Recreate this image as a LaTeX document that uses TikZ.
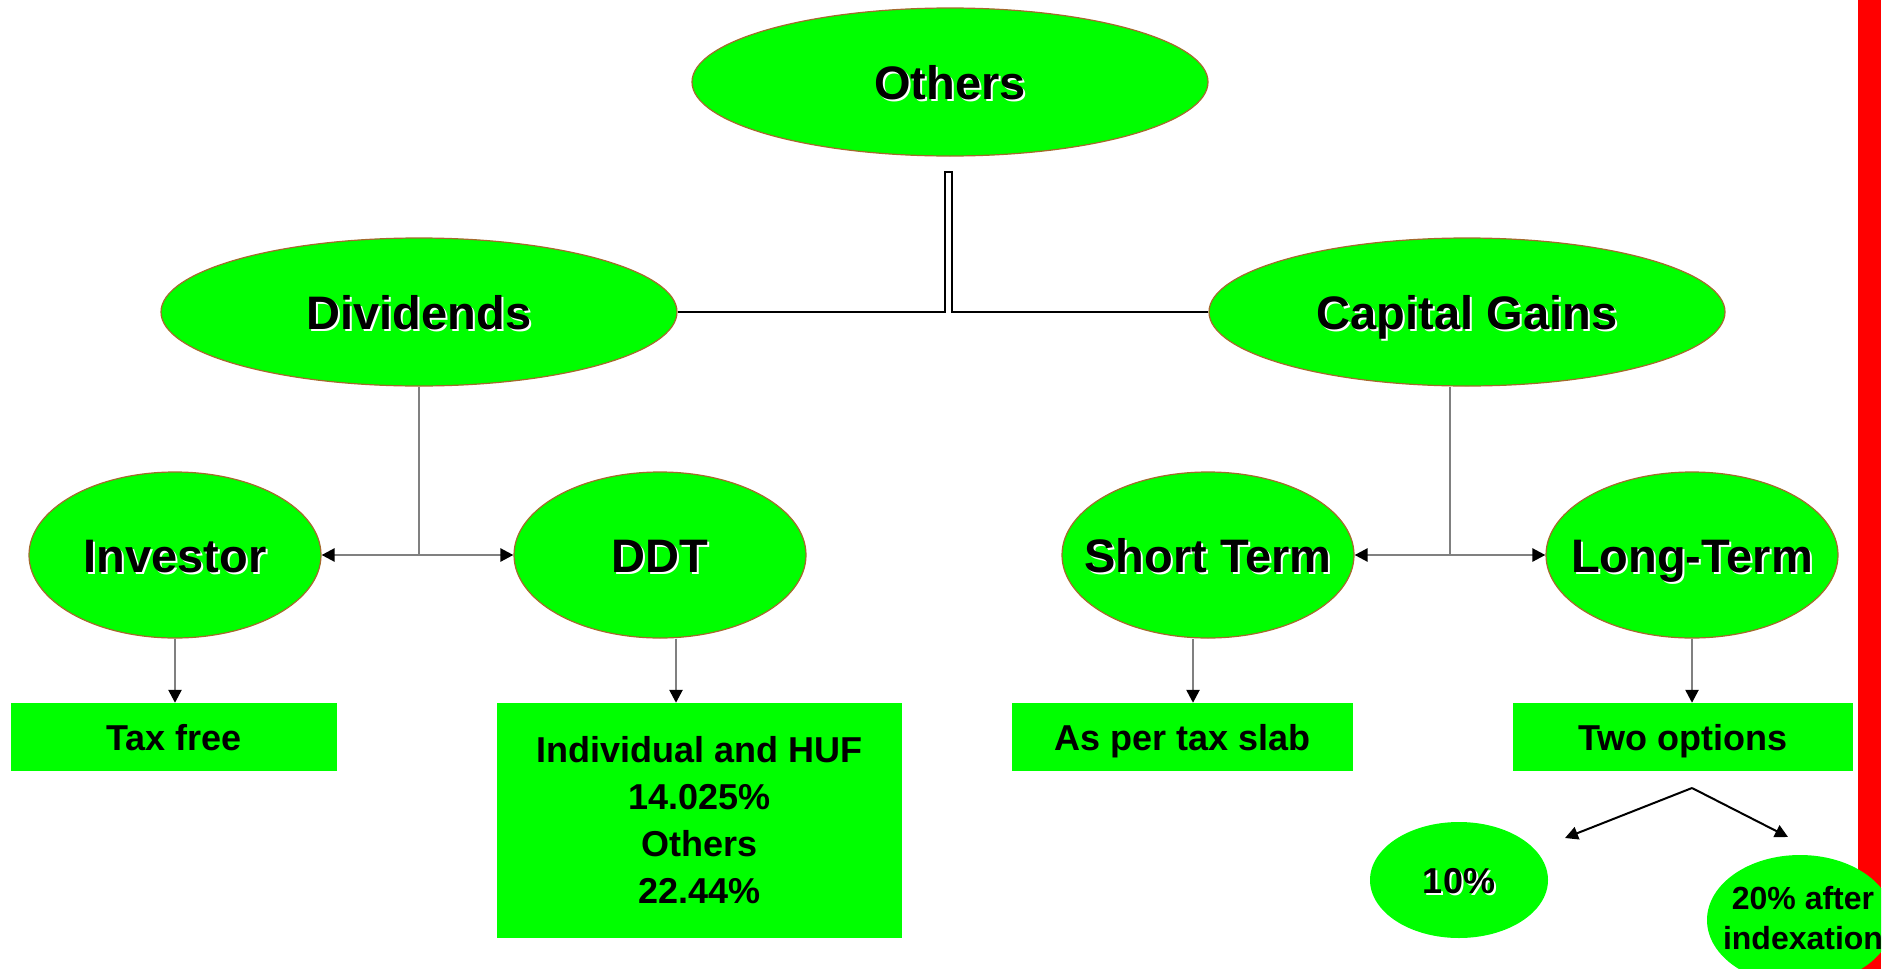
\documentclass[tikz,border=0pt]{standalone}
\usepackage{fontspec}
\setmainfont{Liberation Sans}
\usetikzlibrary{shapes.geometric,arrows.meta,calc}
\definecolor{lgreen}{RGB}{0,255,0}
\definecolor{ellborder}{RGB}{165,105,45}
\definecolor{conngray}{RGB}{128,128,128}
\newcommand{\shtxt}[1]{\makebox[0pt][l]{\hspace{2pt}\raisebox{-2pt}{\color{white}#1}}#1}
\begin{document}
\begin{tikzpicture}[x=1pt,y=-1pt,
  ell/.style={ellipse, draw=ellborder, line width=1.2pt, fill=lgreen, inner sep=0pt},
  plainell/.style={ellipse, fill=lgreen, draw=none, inner sep=0pt},
  bigell/.style={ell, minimum width=516pt, minimum height=148pt},
  midell/.style={ell, minimum width=292pt, minimum height=166pt},
  bigtxt/.style={font=\bfseries\fontsize{47}{56}\selectfont, inner sep=0pt, text height=34pt, text depth=0pt},
  box/.style={fill=lgreen, draw=none, inner sep=0pt, font=\bfseries\fontsize{36}{47}\selectfont, align=center},
  boxtxt/.style={font=\bfseries\fontsize{36}{47}\selectfont, inner sep=0pt, text height=26pt, text depth=0pt},
  blk/.style={draw=black, line width=2pt},
  gr/.style={draw=conngray, line width=2.5pt},
  tip/.style={-{Triangle[length=13pt,width=13pt,color=black]}},
]
\useasboundingbox (0,0) rectangle (1896,969);
\fill[white] (0,0) rectangle (1896,969);

% red bar
\fill[red] (1858,0) rectangle (1881,969);

% level 1 and 2 ellipses
\node[bigell] (oth) at (950,82) {};
\node[bigtxt] (othT) at (oth) {\shtxt{Others}};
\node[bigell] (div) at (419,312) {};
\node[bigtxt] (divT) at (div) {\shtxt{Dividends}};
\node[bigell] (cap) at (1467,312) {};
\node[bigtxt] (capT) at (cap) {\shtxt{Capital Gains}};

\node[midell] (inv) at (175,555) {};
\node[bigtxt] (invT) at (inv) {\shtxt{Investor}};
\node[midell] (ddt) at (660,555) {};
\node[bigtxt] (ddtT) at (ddt) {\shtxt{DDT}};
\node[midell] (st) at (1208,555) {};
\node[bigtxt] (stT) at (st) {\shtxt{Short Term}};
\node[midell] (lt) at (1692,555) {};
\node[bigtxt] (ltT) at (lt) {\shtxt{Long-Term}};

% boxes
\node[box, minimum width=326pt, minimum height=68pt] (tax) at (174,737) {};
\node[boxtxt] (taxT) at (tax) {Tax free};
\node[box, minimum width=405pt, minimum height=235pt] (ddtbox) at (699.5,820.5)
  {Individual and HUF\\14.025\%\\Others\\22.44\%};
\node[box, minimum width=341pt, minimum height=68pt] (slab) at (1182.5,737) {};
\node[boxtxt] (slabT) at (slab) {As per tax slab};
\node[box, minimum width=340pt, minimum height=68pt] (two) at (1683,737) {};
\node[boxtxt] (twoT) at (two) {Two options};

% option ellipses
\node[plainell, minimum width=178pt, minimum height=116pt] (ten) at (1459,880) {};
\node[boxtxt] (tenT) at (ten) {\shtxt{10\%}};
\begin{scope}
  \clip (0,0) rectangle (1881,969);
  \node[plainell, minimum width=186pt, minimum height=130pt] (twenty) at (1800,920) {};
\end{scope}
\node[font=\bfseries\fontsize{32}{40}\selectfont, align=center, inner sep=0pt] (twentyT) at (1803,918) {20\% after\\indexation};

% top connector
\coordinate (jl) at (945,172);
\coordinate (jr) at (952,172);
\draw[blk] (div.east) -- (div.east -| jl) -- (jl) -- (jr) -- (cap.west -| jr) -- (cap.west);

% dividends branch
\coordinate (dj) at (419,555);
\draw[gr] (div.south) -- (dj);
\draw[gr,tip] (dj) -- (inv.east);
\draw[gr,tip] (dj) -- (ddt.west);

% capital gains branch
\coordinate (cj) at (1450,555);
\draw[gr] (cap.south -| cj) -- (cj);
\draw[gr,tip] (cj) -- (st.east);
\draw[gr,tip] (cj) -- (lt.west);

% down arrows
\draw[gr,tip] (inv.south) -- (inv.south |- tax.north);
\draw[gr,tip] ([xshift=16pt]ddt.south) -- ([xshift=16pt]ddt.south |- ddtbox.north);
\draw[gr,tip] ([xshift=-15pt]st.south) -- ([xshift=-15pt]st.south |- slab.north);
\draw[gr,tip] (lt.south) -- (lt.south |- two.north);

% two options split
\coordinate (apex) at (1692,788);
\coordinate (lend) at (1565,838);
\coordinate (rend) at (1788,837);
\draw[blk,tip] (apex) -- (lend);
\draw[blk,tip] (apex) -- (rend);
\end{tikzpicture}
\end{document}
